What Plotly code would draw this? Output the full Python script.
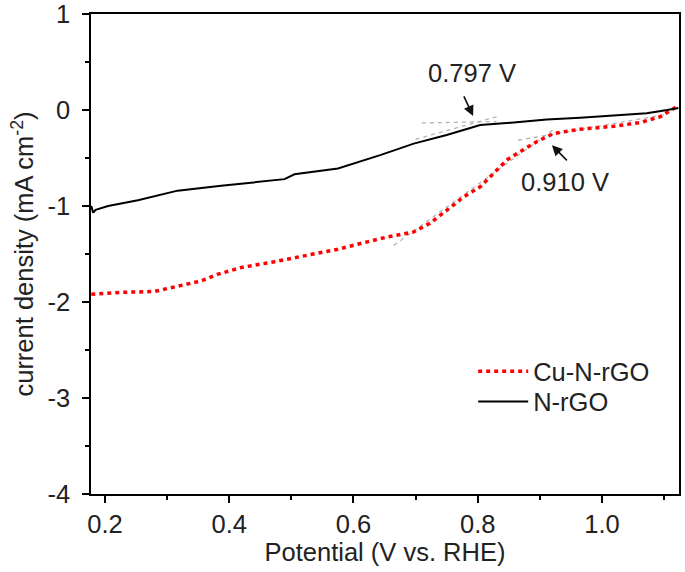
import plotly.graph_objects as go

# N-rGO (black)
nrgo_x = [0.178, 0.181, 0.185, 0.205, 0.253, 0.317, 0.387, 0.441, 0.489, 0.505, 0.575,
          0.643, 0.697, 0.750, 0.804, 0.858, 0.911, 0.965, 1.019, 1.072, 1.105, 1.123]
nrgo_y = [-1.00, -1.07, -1.04, -1.00, -0.94, -0.84, -0.79, -0.75, -0.72, -0.67, -0.61,
          -0.47, -0.35, -0.26, -0.157, -0.13, -0.10, -0.08, -0.055, -0.035, 0.0, 0.02]

# Cu-N-rGO (red)
cu_x = [0.178, 0.226, 0.28, 0.323, 0.355, 0.382, 0.42, 0.473, 0.527, 0.575, 0.618, 0.656,
        0.697, 0.723, 0.750, 0.777, 0.804, 0.825, 0.847, 0.868, 0.895, 0.922, 0.965, 1.019,
        1.062, 1.094, 1.118, 1.124]
cu_y = [-1.92, -1.90, -1.89, -1.83, -1.78, -1.71, -1.64, -1.58, -1.51, -1.45, -1.38, -1.32,
        -1.27, -1.18, -1.045, -0.906, -0.80, -0.66, -0.52, -0.435, -0.33, -0.245, -0.20, -0.17,
        -0.13, -0.07, 0.02, 0.05]

# tangent (onset construction) lines
tan_nrgo_slope_x = [0.70, 0.835]
tan_nrgo_slope_y = [-0.305, -0.062]
tan_nrgo_base_x = [0.71, 0.83]
tan_nrgo_base_y = [-0.135, -0.12]
tan_cu_slope_x = [0.665, 0.925]
tan_cu_slope_y = [-1.41, -0.19]
tan_cu_base_x = [0.865, 1.10]
tan_cu_base_y = [-0.315, -0.05]

# onset labels
onset_labels = ["0.797 V", "0.910 V"]
onset_text_x = [0.7905, 0.9405]
onset_text_y = [0.383, -0.749]
onset_head_x = [0.7926, 0.9194]
onset_head_y = [-0.063, -0.366]
onset_tail_x = [0.7766, 0.9459]
onset_tail_y = [0.157, -0.540]

x_ticks = [0.2, 0.4, 0.6, 0.8, 1.0]
x_ticktext = ["0.2", "0.4", "0.6", "0.8", "1.0"]
y_ticks = [1, 0, -1, -2, -3, -4]
y_ticktext = ["1", "0", "-1", "-2", "-3", "-4"]

FONT = "Liberation Sans, Arial, sans-serif"
FS = 25.5
TXT = "#222222"

fig = go.Figure()
gray = dict(color="#b4b4b4", width=1.3, dash="4px,4px")
for tx, ty in [(tan_nrgo_slope_x, tan_nrgo_slope_y), (tan_nrgo_base_x, tan_nrgo_base_y),
               (tan_cu_slope_x, tan_cu_slope_y), (tan_cu_base_x, tan_cu_base_y)]:
    fig.add_trace(go.Scatter(x=tx, y=ty, mode="lines", line=gray, showlegend=False,
                             hoverinfo="skip"))

fig.add_trace(go.Scatter(x=cu_x, y=cu_y, mode="lines", name="Cu-N-rGO", legend="legend",
                         line=dict(color="#ff0000", width=3.5, dash="4px,4px")))
fig.add_trace(go.Scatter(x=nrgo_x, y=nrgo_y, mode="lines", name="N-rGO", legend="legend2",
                         line=dict(color="#000000", width=2)))

for i, lab in enumerate(onset_labels):
    fig.add_annotation(x=onset_text_x[i], y=onset_text_y[i], text=lab, showarrow=False,
                       font=dict(family=FONT, size=FS, color=TXT))
    fig.add_annotation(x=onset_head_x[i], y=onset_head_y[i], ax=onset_tail_x[i],
                       ay=onset_tail_y[i], axref="x", ayref="y", text="",
                       showarrow=True, arrowhead=2, arrowsize=1.3, arrowwidth=1.6,
                       arrowcolor="#111111")

axis_common = dict(showline=True, linecolor="black", linewidth=1.6, mirror=True,
                   ticks="outside", ticklen=7, tickwidth=1.5, tickcolor="black",
                   showgrid=False, zeroline=False, automargin=False,
                   ticklabeloverflow="allow",
                   tickfont=dict(family=FONT, size=FS, color=TXT))

fig.update_xaxes(range=[0.1775, 1.124], tickvals=x_ticks, ticktext=x_ticktext,
                 minor=dict(dtick=0.1, tick0=0.1, ticks="outside", ticklen=4,
                            tickwidth=1.5, tickcolor="black"),
                 title=dict(text="Potential (V vs. RHE)", standoff=6,
                            font=dict(family=FONT, size=FS, color=TXT)),
                 **axis_common)
fig.update_yaxes(range=[-4, 1], tickvals=y_ticks, ticktext=y_ticktext,
                 ticklabelstandoff=7,
                 minor=dict(dtick=0.5, tick0=0.5, ticks="outside", ticklen=4,
                            tickwidth=1.5, tickcolor="black"),
                 title=dict(text="current density (mA cm<sup>-2</sup>)", standoff=6,
                            font=dict(family=FONT, size=FS, color=TXT)),
                 **axis_common)

leg_common = dict(xanchor="left", yanchor="middle", bgcolor="rgba(0,0,0,0)",
                  itemwidth=50, font=dict(family=FONT, size=FS, color=TXT))
fig.update_layout(
    width=685, height=572,
    margin=dict(l=91, r=6, t=14, b=78),
    plot_bgcolor="white", paper_bgcolor="white",
    font=dict(family=FONT, size=FS, color=TXT),
    legend=dict(x=0.65, y=0.255, **leg_common),
    legend2=dict(x=0.65, y=0.192, **leg_common),
)

fig.write_html("out.html", config={"displayModeBar": False},
               post_script="document.body.style.margin='0';document.body.style.overflow='hidden';")
